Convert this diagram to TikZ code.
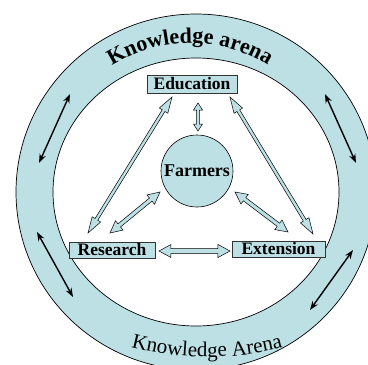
\documentclass[tikz,border=0pt]{standalone}
\usepackage{fontspec}
\setmainfont{Liberation Serif}
\usetikzlibrary{calc,arrows.meta,decorations.text}
\definecolor{ringblue}{RGB}{189,224,229}
\newcommand\topfont{\fontsize{22}{22}\selectfont\bfseries}
\newcommand\botfont{\fontsize{21}{21}\selectfont}
% hollow double arrow: #1 start, #2 end, #3 half shaft width, #4 half head width, #5 head length
\newcommand\hollowarr[5]{%
  \draw[hollow] (#1)
    -- ($ ($(#1)!#5!(#2)$)!#4!90:(#2) $)
    -- ($ ($(#1)!#5!(#2)$)!#3!90:(#2) $)
    -- ($ ($(#2)!#5!(#1)$)!#3!-90:(#1) $)
    -- ($ ($(#2)!#5!(#1)$)!#4!-90:(#1) $)
    -- (#2)
    -- ($ ($(#2)!#5!(#1)$)!#4!90:(#1) $)
    -- ($ ($(#2)!#5!(#1)$)!#3!90:(#1) $)
    -- ($ ($(#1)!#5!(#2)$)!#3!-90:(#2) $)
    -- ($ ($(#1)!#5!(#2)$)!#4!-90:(#2) $)
    -- cycle;}
\begin{document}
\begin{tikzpicture}[x=1pt,y=-1pt,
  box/.style={draw=black!80, fill=ringblue, line width=0.6pt, inner sep=0pt,
    font=\fontsize{17.5}{18}\selectfont\bfseries},
  hollow/.style={draw=black, fill=ringblue, line width=0.5pt, line join=miter},
  blackarrow/.style={line width=1.4pt,
    {Stealth[length=9pt,width=6.5pt]}-{Stealth[length=9pt,width=6.5pt]}},
  ringline/.style={draw=black, line width=0.7pt}]
\useasboundingbox (0,0) rectangle (368,365);
\clip (0,0) rectangle (368,365);
% ring
\fill[ringblue, even odd rule] (196,192) ellipse [x radius=180, y radius=178]
  (196,192) ellipse [x radius=143, y radius=134];
\draw[ringline] (196,192) ellipse [x radius=180, y radius=178];
\draw[ringline] (196,192) ellipse [x radius=143, y radius=134];
% ring texts
\path[decorate, decoration={text along path, text align=center,
  text={|\topfont|Knowledge arena}}]
  (190,189) ++(230:146) arc [start angle=230, end angle=310, radius=146];
\path[decorate, decoration={text along path, text align=center,
  text={|\botfont|Knowledge Arena}}]
  (207,57) ++(105:300) arc [start angle=105, end angle=75, radius=300];
% nodes
\node[box, minimum width=90pt, minimum height=18pt] (edu) at (192,84) {Education};
\node[box, minimum width=86pt, minimum height=16pt] (res) at (112,250) {Research};
\node[box, minimum width=93pt, minimum height=16pt] (ext) at (278.5,249) {Extension};
\node[circle, draw=black, line width=0.6pt, fill=ringblue, minimum size=72pt, inner sep=0pt,
  font=\fontsize{18}{18}\selectfont\bfseries] (farm) at (197,171) {Farmers};
% connector end points
\coordinate (ef1) at (198,103); \coordinate (ef2) at (198,131);
\coordinate (er1) at (172,97);  \coordinate (er2) at (88,233);
\coordinate (fr1) at (160,192); \coordinate (fr2) at (110,233);
\coordinate (ex1) at (230,97);  \coordinate (ex2) at (313,234);
\coordinate (fx1) at (235,192); \coordinate (fx2) at (288,232);
\coordinate (rx1) at (159,251); \coordinate (rx2) at (230,251);
% hollow arrows
\hollowarr{ef1}{ef2}{1.4pt}{4.5pt}{7pt}
\hollowarr{er1}{er2}{1.6pt}{5pt}{16pt}
\hollowarr{ex1}{ex2}{1.6pt}{5pt}{16pt}
\hollowarr{fr1}{fr2}{2pt}{6pt}{12pt}
\hollowarr{fx1}{fx2}{2pt}{6pt}{12pt}
\hollowarr{rx1}{rx2}{2.5pt}{6.5pt}{12pt}
% black arrows in the ring
\coordinate (k1a) at (70,94);   \coordinate (k1b) at (39,163);
\coordinate (k2a) at (37,232);  \coordinate (k2b) at (73,297);
\coordinate (k3a) at (325,94);  \coordinate (k3b) at (356,163);
\coordinate (k4a) at (353,250); \coordinate (k4b) at (310,310);
\draw[blackarrow] (k1a) -- (k1b);
\draw[blackarrow] (k2a) -- (k2b);
\draw[blackarrow] (k3a) -- (k3b);
\draw[blackarrow] (k4a) -- (k4b);
\end{tikzpicture}
\end{document}
